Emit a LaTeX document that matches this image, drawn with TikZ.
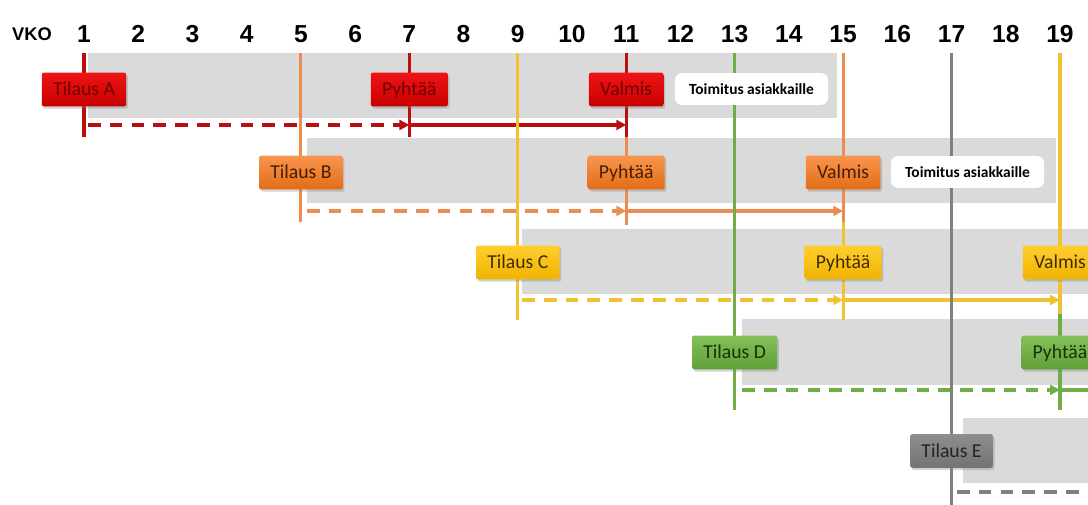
\documentclass[tikz,border=0pt]{standalone}
\usepackage{fontspec}
\setmainfont{Carlito}
\newfontfamily\numfont{Liberation Sans}
\usetikzlibrary{arrows.meta,shadows}

\definecolor{bandgray}{RGB}{218,218,218}
\definecolor{Aline}{RGB}{185,15,15}
\definecolor{Atop}{RGB}{238,20,20}
\definecolor{Abot}{RGB}{200,0,0}
\definecolor{Atxt}{RGB}{110,0,0}
\definecolor{Bline}{RGB}{236,140,80}
\definecolor{Btop}{RGB}{248,150,80}
\definecolor{Bbot}{RGB}{228,108,20}
\definecolor{Btxt}{RGB}{70,30,5}
\definecolor{Cline}{RGB}{240,194,50}
\definecolor{Ctop}{RGB}{255,206,45}
\definecolor{Cbot}{RGB}{240,180,0}
\definecolor{Ctxt}{RGB}{65,45,0}
\definecolor{Dline}{RGB}{112,173,71}
\definecolor{Dtop}{RGB}{132,192,88}
\definecolor{Dbot}{RGB}{95,160,55}
\definecolor{Dtxt}{RGB}{22,50,8}
\definecolor{Eline}{RGB}{128,128,128}
\definecolor{Etop}{RGB}{142,142,142}
\definecolor{Ebot}{RGB}{115,115,115}
\definecolor{Etxt}{RGB}{35,35,35}

\begin{document}
\begin{tikzpicture}[x=1.3555cm,y=-0.025cm,
    wk/.style={font=\numfont\bfseries\fontsize{17.5}{20}\selectfont},
    band/.style={fill=bandgray},
    vl/.style={draw=#1line,line width=2.2pt},
    go/.style={draw=#1line,line width=2.4pt,-{Triangle[length=7pt,width=7pt]}},
    plan/.style={go=#1,line width=3pt,dash pattern=on 9pt off 6.5pt},
    ms/.style={rounded corners=1.5pt,minimum height=24pt,inner xsep=8pt,
        text height=9pt,text depth=0pt,
        top color=#1top,bottom color=#1bot,text=#1txt,
        font=\fontsize{14}{16}\selectfont,
        drop shadow={shadow xshift=1.2pt,shadow yshift=-1.6pt,opacity=0.35}},
    note/.style={fill=white,rounded corners=5pt,minimum width=109pt,
        minimum height=22.5pt,text height=7.5pt,text depth=0pt,
        font=\bfseries\fontsize{11}{13}\selectfont}]

    \clip (-0.5493,0) rectangle (19.517,505);

    % week header
    \node[wk,font=\numfont\bfseries\fontsize{13}{15}\selectfont] (vko) at (0.04,34) {VKO};
    \foreach \w in {1,...,19}
        \node[wk] (w\w) at (\w,34) {\w};

    % rows
    \fill[band] (1.074,53) rectangle (14.89,118);
    \fill[band] (5.113,138) rectangle (18.93,203);
    \fill[band] (9.08,229) rectangle (19.6,294);
    \fill[band] (13.14,319) rectangle (19.6,385);
    \fill[band] (17.21,418) rectangle (19.6,483);

    \foreach \w in {1,5,7,9,11,13,15,17,19}
        \coordinate (t\w) at (\w,53);
    \coordinate (b1) at (1,137);
    \coordinate (b7) at (7,137);
    \coordinate (m11) at (11,137);
    \coordinate (b11) at (11,225);
    \coordinate (b5) at (5,222);
    \coordinate (m15) at (15,222);
    \coordinate (b15) at (15,320);
    \coordinate (b9) at (9,320);
    \coordinate (m19) at (19,314);
    \coordinate (b19) at (19,410);
    \coordinate (b13) at (13,410);
    \coordinate (b17) at (17,505);

    % order flow
    \coordinate (sA) at (1.074,125);
    \coordinate (pA') at (7,125);
    \coordinate (vA') at (11,125);
    \draw[plan=A] (sA) -- (pA');
    \draw[go=A] (pA') -- (vA');

    \coordinate (sB) at (5.113,211);
    \coordinate (pB') at (11,211);
    \coordinate (vB') at (15,211);
    \draw[plan=B] (sB) -- (pB');
    \draw[go=B] (pB') -- (vB');

    \coordinate (sC) at (9.08,300);
    \coordinate (pC') at (15,300);
    \coordinate (vC') at (19,300);
    \draw[plan=C] (sC) -- (pC');
    \draw[go=C] (pC') -- (vC');

    \coordinate (sD) at (13.14,390);
    \coordinate (pD') at (19,390);
    \coordinate (eD) at (20,390);
    \draw[plan=D] (sD) -- (pD');
    \draw[go=D] (pD') -- (eD);

    \coordinate (sE) at (17.1,492);
    \coordinate (eE) at (19.7,492);
    \draw[plan=E,-] (sE) -- (eE);

    % week lines
    \draw[vl=A] (t1) -- (b1);
    \draw[vl=A] (t7) -- (b7);
    \draw[vl=A] (t11) -- (m11);
    \draw[vl=B] (m11) -- (b11);
    \draw[vl=B] (t5) -- (b5);
    \draw[vl=B] (t15) -- (m15);
    \draw[vl=C] (m15) -- (b15);
    \draw[vl=C] (t9) -- (b9);
    \draw[vl=C] (t19) -- (m19);
    \draw[vl=D] (m19) -- (b19);
    \draw[vl=D] (t13) -- (b13);
    \draw[vl=E] (t17) -- (b17);

    % milestones
    \node[ms=A] (tA) at (1,89.5) {Tilaus A};
    \node[ms=A] (pA) at (7,89.5) {Pyhtää};
    \node[ms=A] (vA) at (11,89.5) {Valmis};
    \node[note] (nA) at (13.311,89) {Toimitus asiakkaille};

    \node[ms=B] (tB) at (5,172.5) {Tilaus B};
    \node[ms=B] (pB) at (11,172.5) {Pyhtää};
    \node[ms=B] (vB) at (15,172.5) {Valmis};
    \node[note] (nB) at (17.295,172) {Toimitus asiakkaille};

    \node[ms=C] (tC) at (9,262.5) {Tilaus C};
    \node[ms=C] (pC) at (15,262.5) {Pyhtää};
    \node[ms=C] (vC) at (19,262.5) {Valmis};

    \node[ms=D] (tD) at (13,352.5) {Tilaus D};
    \node[ms=D] (pD) at (19,352.5) {Pyhtää};

    \node[ms=E] (tE) at (17,451) {Tilaus E};
\end{tikzpicture}
\end{document}
